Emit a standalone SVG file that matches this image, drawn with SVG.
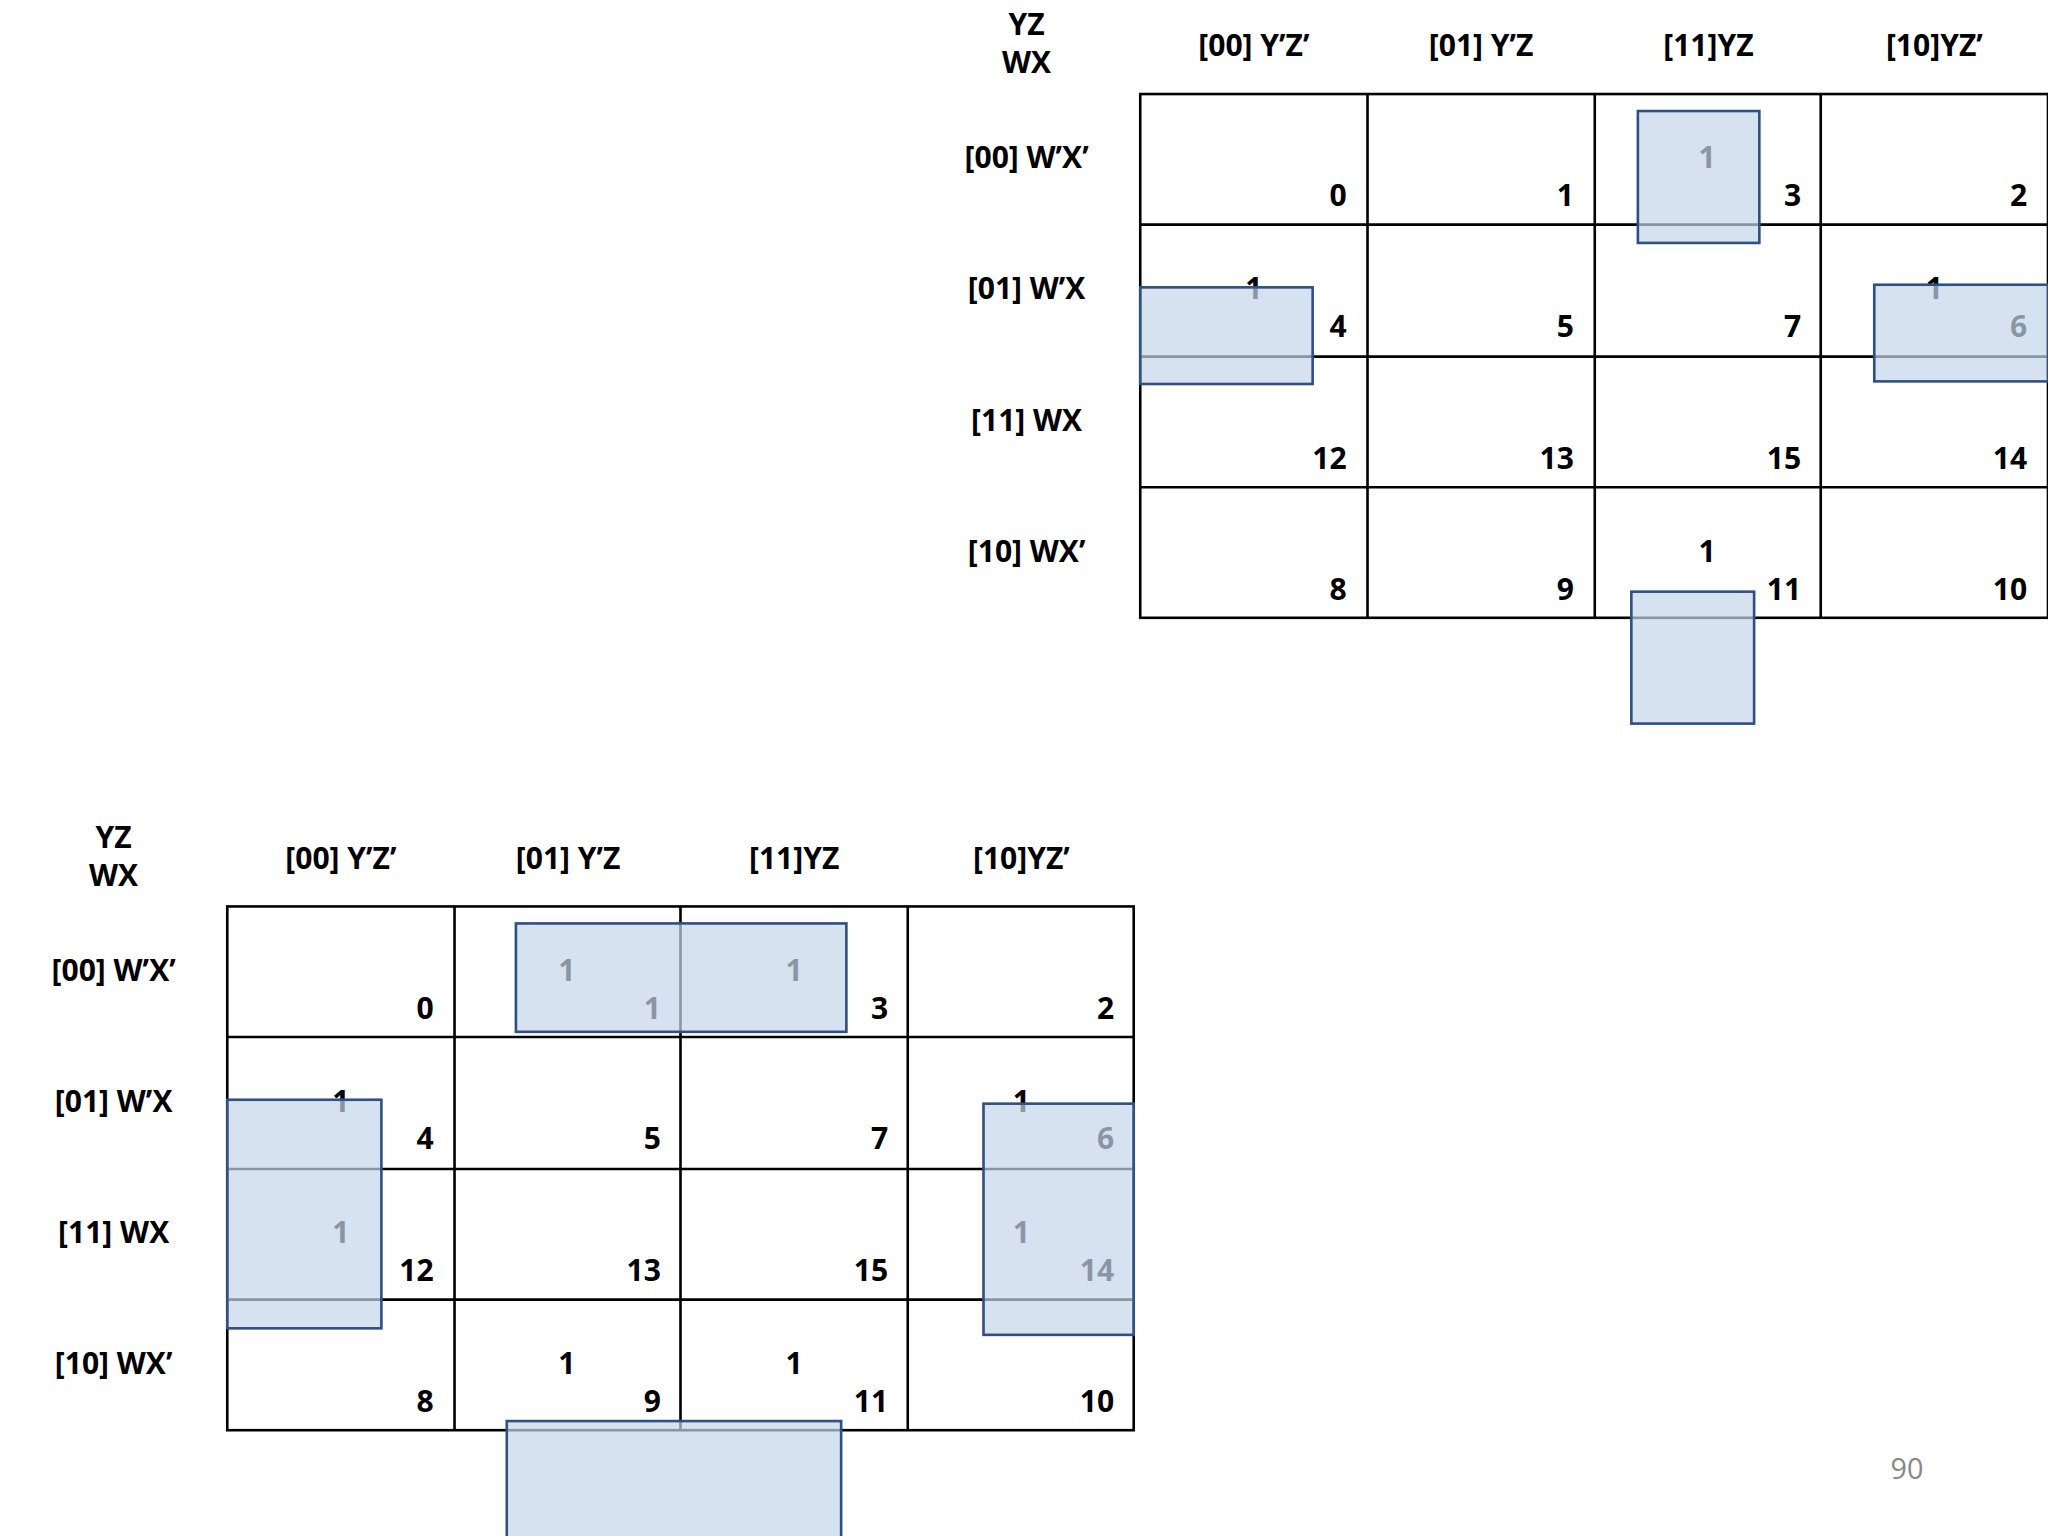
<svg xmlns="http://www.w3.org/2000/svg" width="2048" height="1536" viewBox="0 0 2048 1536">
<style>
.t{font-family:"Open Sans","Noto Sans",sans-serif;font-weight:bold;font-size:23px;fill:#000}
.m{text-anchor:middle}.e{text-anchor:end}
.g{fill:none;stroke:#000;stroke-width:2}
.h{fill:#c5d5e8;fill-opacity:0.7;stroke:#2f5080;stroke-width:2}
</style>
<rect width="2048" height="1536" fill="#fff"/>
<g transform="scale(1.30612)">
<g id="map1">
<rect class="g" x="873" y="72" width="695" height="401"/>
<path class="g" d="M1047 72V473M1221 72V473M1394 72V473M873 172H1568M873 273H1568M873 373H1568"/>
<g class="t m">
<text x="786" y="27">YZ</text><text x="786" y="56">WX</text>
<text x="960" y="43">[00] Y’Z’</text><text x="1134" y="43">[01] Y’Z</text><text x="1308" y="43">[11]YZ</text><text x="1481" y="43">[10]YZ’</text>
<text x="786" y="129">[00] W’X’</text><text x="786" y="229">[01] W’X</text><text x="786" y="330">[11] WX</text><text x="786" y="430">[10] WX’</text>
<text x="1307" y="129">1</text><text x="960" y="229">1</text><text x="1481" y="229">1</text><text x="1307" y="430">1</text>
</g>
<g class="t e">
<text x="1031" y="158">0</text><text x="1205" y="158">1</text><text x="1379" y="158">3</text><text x="1552" y="158">2</text>
<text x="1031" y="258">4</text><text x="1205" y="258">5</text><text x="1379" y="258">7</text><text x="1552" y="258">6</text>
<text x="1031" y="359">12</text><text x="1205" y="359">13</text><text x="1379" y="359">15</text><text x="1552" y="359">14</text>
<text x="1031" y="459">8</text><text x="1205" y="459">9</text><text x="1379" y="459">11</text><text x="1552" y="459">10</text>
</g>
</g>
<g id="groups1">
<rect class="h" x="1254" y="85" width="93" height="101"/>
<rect class="h" x="873" y="220" width="132" height="74"/>
<rect class="h" x="1435" y="218" width="133" height="74"/>
<rect class="h" x="1249" y="453" width="94" height="101"/>
</g>
<g id="map2">
<rect class="g" x="174" y="694" width="694" height="401"/>
<path class="g" d="M348 694V1095M521 694V1095M695 694V1095M174 794H868M174 895H868M174 995H868"/>
<g class="t m">
<text x="87" y="649">YZ</text><text x="87" y="678">WX</text>
<text x="261" y="665">[00] Y’Z’</text><text x="435" y="665">[01] Y’Z</text><text x="608" y="665">[11]YZ</text><text x="782" y="665">[10]YZ’</text>
<text x="87" y="751">[00] W’X’</text><text x="87" y="851">[01] W’X</text><text x="87" y="952">[11] WX</text><text x="87" y="1052">[10] WX’</text>
<text x="434" y="751">1</text><text x="608" y="751">1</text><text x="261" y="851">1</text><text x="782" y="851">1</text>
<text x="261" y="952">1</text><text x="782" y="952">1</text><text x="434" y="1052">1</text><text x="608" y="1052">1</text>
</g>
<g class="t e">
<text x="332" y="780">0</text><text x="506" y="780">1</text><text x="680" y="780">3</text><text x="853" y="780">2</text>
<text x="332" y="880">4</text><text x="506" y="880">5</text><text x="680" y="880">7</text><text x="853" y="880">6</text>
<text x="332" y="981">12</text><text x="506" y="981">13</text><text x="680" y="981">15</text><text x="853" y="981">14</text>
<text x="332" y="1081">8</text><text x="506" y="1081">9</text><text x="680" y="1081">11</text><text x="853" y="1081">10</text>
</g>
</g>
<g id="groups2">
<rect class="h" x="395" y="707" width="253" height="83"/>
<rect class="h" x="174" y="842" width="118" height="175"/>
<rect class="h" x="753" y="845" width="115" height="177"/>
<rect class="h" x="388" y="1088" width="256" height="100"/>
</g>
<text x="1460" y="1132" font-family="Open Sans,sans-serif" font-size="22" fill="#888" text-anchor="middle">90</text>
</g>
</svg>
